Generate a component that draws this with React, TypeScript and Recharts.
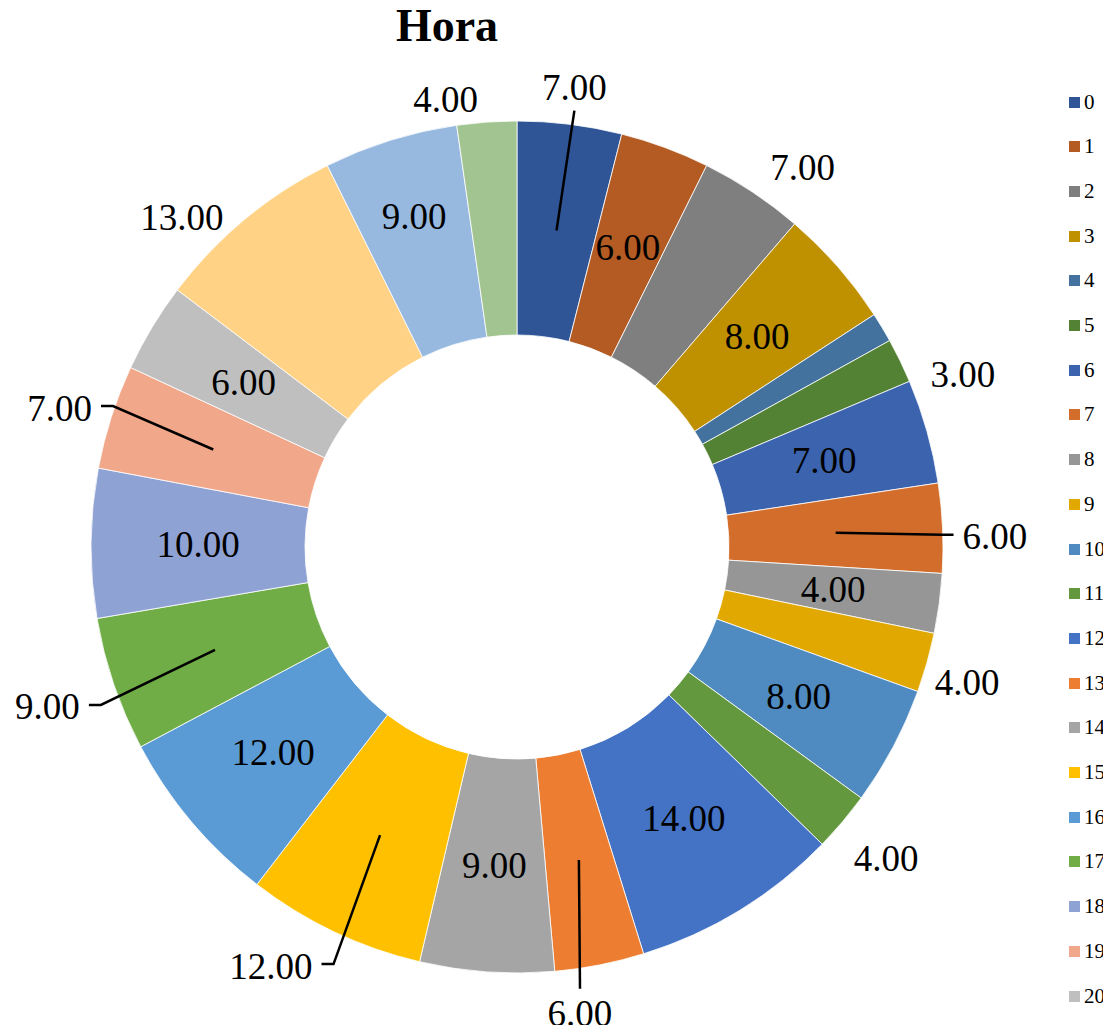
import React from "react"
import { PieChart, Pie, Cell } from "recharts"

// horas del día y cantidad de registros por hora
const hours = ["0", "1", "2", "3", "4", "5", "6", "7", "8", "9", "10", "11", "12", "13", "14", "15", "16", "17", "18", "19", "20", "21", "22", "23"]
const counts = [7, 6, 7, 8, 2, 3, 7, 6, 4, 4, 8, 4, 14, 6, 9, 12, 12, 9, 10, 7, 6, 13, 9, 4]

const colors = [
  "#2F5597", "#B35B22", "#7F7F7F", "#BF9000", "#43729F", "#548235",
  "#3C64AE", "#D36D2B", "#969696", "#E0A800", "#4F8BC0", "#63983E",
  "#4472C4", "#ED7D31", "#A5A5A5", "#FFC000", "#5B9BD5", "#70AD47",
  "#8FA2D4", "#F1A78A", "#BFBFBF", "#FFD285", "#97B9E0", "#A2C490",
]

// the legend box overflows in the original, only 0..20 are visible
const legendCount = 21

// where each data label sits: inside the ring, outside, or outside with a leader line
type Placement = { mode: "in" | "out" | "leader" | "none"; turn?: number; push?: number }
const labelPlacement: Placement[] = [
  { mode: "leader", push: 37 },
  { mode: "in" },
  { mode: "out", turn: 3.4, push: 49 },
  { mode: "in" },
  { mode: "none" },
  { mode: "out", turn: 4.8, push: 52 },
  { mode: "in" },
  { mode: "leader", turn: 1.3, push: 52 },
  { mode: "in" },
  { mode: "out", turn: 1, push: 44 },
  { mode: "in" },
  { mode: "out", push: 57 },
  { mode: "in" },
  { mode: "leader", turn: 3.5, push: 45 },
  { mode: "in" },
  { mode: "leader", turn: 5, push: 60 },
  { mode: "in" },
  { mode: "leader", push: 70 },
  { mode: "in" },
  { mode: "leader", turn: -0.9, push: 52 },
  { mode: "in" },
  { mode: "out", turn: -5.8, push: 44 },
  { mode: "in", push: 27 },
  { mode: "out", turn: -5, push: 27 },
]

const data = hours.map((h, i) => ({ hora: h, valor: counts[i] }))

const FONT = '"Liberation Serif", "Times New Roman", serif'
const LABEL_SIZE = 37
const RAD = Math.PI / 180

const renderLabel = (props: any) => {
  const { cx, cy, midAngle, innerRadius, outerRadius, index, value } = props
  const place = labelPlacement[index]
  if (!place || place.mode === "none") return null
  const text = Number(value).toFixed(2)
  const compass = 90 - midAngle
  const pt = (deg: number, r: number) => [cx + r * Math.sin(deg * RAD), cy - r * Math.cos(deg * RAD)]
  const midR = (innerRadius + outerRadius) / 2

  const textEl = (x: number, y: number) => (
    <text x={x} y={y} textAnchor="middle" dominantBaseline="central" fontFamily={FONT} fontSize={LABEL_SIZE} fill="#000">
      {text}
    </text>
  )

  if (place.mode === "in") {
    const [x, y] = pt(compass, midR + (place.push || 0))
    return <g key={`lbl-${index}`}>{textEl(x, y)}</g>
  }

  const [lx, ly] = pt(compass + (place.turn || 0), outerRadius + (place.push ?? 50))
  if (place.mode === "out") return <g key={`lbl-${index}`}>{textEl(lx, ly)}</g>

  // leader line from the middle of the slice to the label
  const [sx, sy] = pt(compass, midR)
  const hw = (text.length - 1) * LABEL_SIZE * 0.5 / 2 + LABEL_SIZE * 0.125
  const dx = lx - cx
  const dy = ly - cy
  let points: number[][]
  if (Math.abs(dy) > Math.abs(dx) * 3) {
    const ey = dy < 0 ? ly + 23 : ly - 25
    points = [[sx, sy], [lx, ey]]
  } else {
    const side = dx < 0 ? 1 : -1
    const ex = lx + side * (hw + 9)
    const ey = ly - 2
    points = [[sx, sy], [ex + side * 12, ey], [ex, ey]]
  }
  return (
    <g key={`lbl-${index}`}>
      <polyline points={points.map((p) => p.join(",")).join(" ")} fill="none" stroke="#000" strokeWidth={2.5} />
      {textEl(lx, ly)}
    </g>
  )
}

export default function App() {
  // cancel the body margin so the chart uses the whole 1111x1033 page
  return (
    <div style={{ position: "relative", width: 1111, height: 1033, margin: "-8px 0 -8px -8px", background: "#fff" }}>
      <div
        style={{
          position: "absolute",
          left: 347,
          top: 3,
          width: 200,
          textAlign: "center",
          fontFamily: FONT,
          fontWeight: "bold",
          fontSize: 46,
          lineHeight: "46px",
        }}
      >
        Hora
      </div>
      <PieChart width={1111} height={1033} margin={{ top: 0, right: 0, bottom: 0, left: 0 }}>
        <Pie
          data={data}
          dataKey="valor"
          nameKey="hora"
          cx={517}
          cy={547}
          innerRadius={212}
          outerRadius={426}
          startAngle={90}
          endAngle={-270}
          stroke="#fff"
          strokeWidth={0.8}
          label={renderLabel}
          labelLine={false}
          isAnimationActive={false}
        >
          {data.map((d, i) => (
            <Cell key={d.hora} fill={colors[i]} />
          ))}
        </Pie>
      </PieChart>
      <div style={{ position: "absolute", left: 1069, top: 0 }}>
        {hours.slice(0, legendCount).map((h, i) => (
          <div
            key={h}
            style={{
              position: "absolute",
              top: 102 + i * 44.7 - 11,
              left: 0,
              height: 22,
              display: "flex",
              alignItems: "center",
              whiteSpace: "nowrap",
              fontFamily: FONT,
              fontSize: 21,
            }}
          >
            <span style={{ width: 11, height: 11, background: colors[i], display: "inline-block" }} />
            <span style={{ marginLeft: 4 }}>{h}</span>
          </div>
        ))}
      </div>
    </div>
  )
}
